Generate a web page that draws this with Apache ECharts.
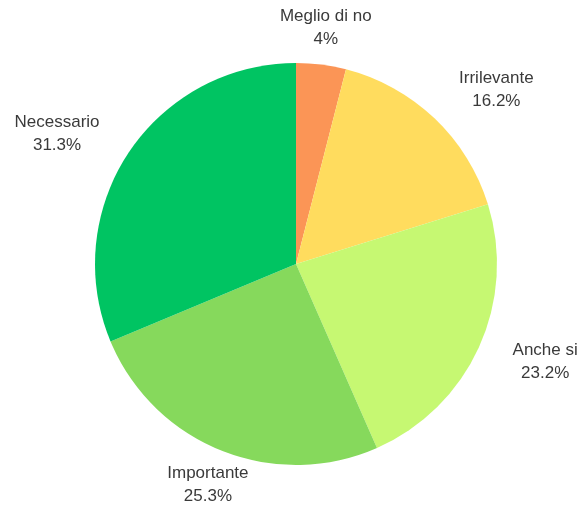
<!DOCTYPE html>
<html>
<head>
<meta charset="utf-8">
<script src="https://cdn.jsdelivr.net/npm/echarts@6/dist/echarts.min.js"></script>
<style>
html,body{margin:0;padding:0;background:#fff;}
#main{width:581px;height:508px;}
</style>
</head>
<body>
<div id="main"></div>
<script>
const categories = ['Meglio di no', 'Irrilevante', 'Anche si', 'Importante', 'Necessario'];
const values = [4, 16.2, 23.2, 25.3, 31.3];
const colors = ['#FB9556', '#FFDC5E', '#C6F872', '#86D95C', '#00C462'];

// label placement tweaks (style only): extra gap beyond the rim, angle nudge in degrees
const labelGap = [8, 21, 28, 0, 23];
const labelNudge = [0, 5.5, -3, 0, -5];

const chart = echarts.init(document.getElementById('main'), null, {renderer: 'canvas'});

const data = categories.map((name, i) => ({
  name: name,
  value: values[i],
  itemStyle: {color: colors[i]}
}));

chart.setOption({
  animation: false,
  backgroundColor: '#ffffff',
  series: [{
    type: 'pie',
    center: [296, 264],
    radius: 201,
    startAngle: 90,
    clockwise: true,
    avoidLabelOverlap: false,
    data: data,
    itemStyle: {borderWidth: 0},
    label: {
      show: true,
      position: 'outside',
      formatter: p => p.name + '\n' + p.value + '%',
      fontFamily: 'Liberation Sans, Arial, sans-serif',
      fontSize: 17,
      lineHeight: 23,
      color: '#3a3a3a',
      align: 'center'
    },
    labelLine: {show: false},
    emphasis: {disabled: true},
    labelLayout: function (p) {
      const lay = chart.getModel().getSeriesByIndex(0).getData().getItemLayout(p.dataIndex);
      if (!lay) return {};
      const i = p.dataIndex;
      const mid = (lay.startAngle + lay.endAngle) / 2 + labelNudge[i] * Math.PI / 180;
      const dx = Math.cos(mid), dy = Math.sin(mid);
      const w = p.labelRect.width, h = 46;
      const ext = Math.abs(dx) * w / 2 + Math.abs(dy) * h / 2;
      const d = lay.r + labelGap[i] + ext;
      return {
        x: lay.cx + dx * d,
        y: lay.cy + dy * d,
        align: 'center',
        verticalAlign: 'middle'
      };
    }
  }]
});
</script>
</body>
</html>
